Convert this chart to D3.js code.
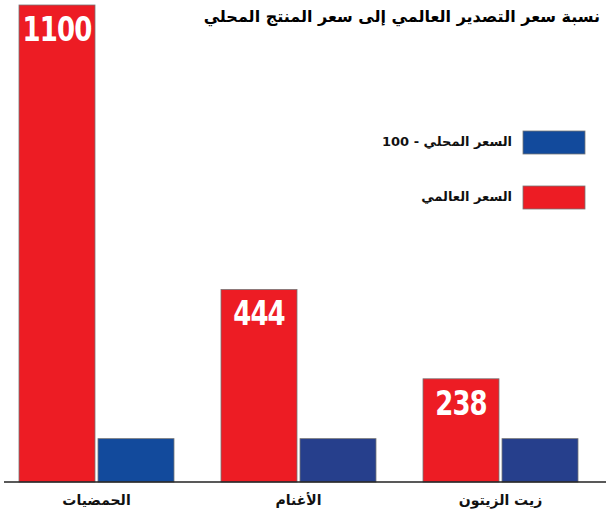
<!DOCTYPE html>
<html>
<head>
<meta charset="utf-8">
<script src="https://cdn.jsdelivr.net/npm/d3@7"></script>
<style>
body { margin: 0; background: #fff; }
svg { display: block; }
</style>
</head>
<body>
<script>
var categories = ["الحمضيات", "الأغنام", "زيت الزيتون"];
var series = ["world", "local"];
var worldPrice = [1100, 444, 238];
var localPrice = [100, 100, 100];
var seriesNames = { world: "السعر العالمي", local: "السعر المحلي - 100" };
var title = "نسبة سعر التصدير العالمي إلى سعر المنتج المحلي";

var width = 606,
	height = 513,
	baseline = 482;

var red = "#ed1c24";
var blues = ["#124a9c", "#263f8c", "#263f8c"];

var data = categories.map(function(c, i) {
	return { cat: c, i: i, world: worldPrice[i], local: localPrice[i] };
});

var x0 = d3.scaleBand().domain(categories).range([19, 578]).paddingInner(47 / 202).paddingOuter(0);
var x1 = d3.scaleBand().domain(series).range([0, x0.bandwidth()]).paddingInner(3 / 79);
var y = d3.scaleLinear().domain([0, 1100]).range([baseline, 5]);

var svg = d3.select("body").append("svg")
	.attr("width", width)
	.attr("height", height);

var groups = svg.selectAll("g.grp")
	.data(data)
	.enter().append("g")
	.attr("class", "grp")
	.attr("transform", function(d) { return "translate(" + x0(d.cat) + ",0)"; });

groups.selectAll("rect")
	.data(function(d) { return series.map(function(s) { return { s: s, v: d[s], i: d.i }; }); })
	.enter().append("rect")
	.attr("x", function(d) { return x1(d.s); })
	.attr("y", function(d) { return y(d.v); })
	.attr("width", x1.bandwidth())
	.attr("height", function(d) { return baseline - y(d.v); })
	.attr("fill", function(d) { return d.s == "world" ? red : blues[d.i]; })
	.attr("stroke", "#777")
	.attr("stroke-width", 0.8);

// value labels inside the red bars (squeezed to look like a condensed face)
groups.append("text")
	.attr("transform", function(d) {
		return "translate(" + (x1("world") + x1.bandwidth() / 2) + "," + (y(d.world) + 36) + ") scale(0.85,1)";
	})
	.attr("text-anchor", "middle")
	.attr("fill", "#fff")
	.style("font-family", "'DejaVu Sans Condensed', 'DejaVu Sans', sans-serif")
	.style("font-stretch", "condensed")
	.style("font-weight", "bold")
	.style("font-size", "34px")
	.style("letter-spacing", "-1px")
	.text(function(d) { return d.world; });

// baseline
svg.append("line")
	.attr("x1", 4).attr("x2", 606)
	.attr("y1", baseline).attr("y2", baseline)
	.attr("stroke", "#222")
	.attr("stroke-width", 1.5);

var axis = svg.append("g")
	.attr("transform", "translate(0," + baseline + ")")
	.call(d3.axisBottom(x0).tickSize(0).tickPadding(13));
axis.select(".domain").remove();
axis.selectAll("text")
	.attr("direction", "rtl")
	.style("font-family", "'DejaVu Sans', sans-serif")
	.style("font-weight", "bold")
	.style("font-size", "14px")
	.attr("fill", "#111");

// title
svg.append("text")
	.attr("x", 600)
	.attr("y", 22)
	.attr("direction", "rtl")
	.attr("text-anchor", "start")
	.style("font-family", "'DejaVu Sans', sans-serif")
	.style("font-weight", "bold")
	.style("font-size", "16px")
	.attr("fill", "#000")
	.text(title);

// legend
var legend = svg.selectAll("g.leg")
	.data(["local", "world"])
	.enter().append("g")
	.attr("class", "leg")
	.attr("transform", function(d, i) { return "translate(523," + (131 + i * 55) + ")"; });

legend.append("rect")
	.attr("width", 62)
	.attr("height", 23)
	.attr("fill", function(d) { return d == "world" ? red : blues[0]; })
	.attr("stroke", "#777")
	.attr("stroke-width", 0.8);

legend.append("text")
	.attr("x", -11)
	.attr("y", 15)
	.attr("direction", "rtl")
	.attr("text-anchor", "start")
	.style("font-family", "'DejaVu Sans', sans-serif")
	.style("font-weight", "bold")
	.style("font-size", "13px")
	.attr("fill", "#111")
	.text(function(d) { return seriesNames[d]; });
</script>
</body>
</html>
